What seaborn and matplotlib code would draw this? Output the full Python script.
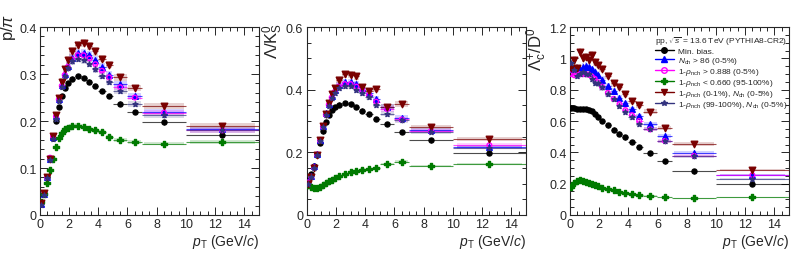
import numpy as np
import pandas as pd
import seaborn as sns
import matplotlib.pyplot as plt
from matplotlib.ticker import MultipleLocator
from matplotlib.lines import Line2D

# pT bins (GeV/c)
pt_edges = [0, 0.2, 0.4, 0.6, 0.8, 1.0, 1.2, 1.4, 1.6, 1.8, 2.0,
            2.4, 2.8, 3.2, 3.6, 4.0, 4.5, 5.0, 6.0, 7.0, 10.0, 15.0]

series_names = ["minbias", "nch", "rho_hi", "rho_lo", "rho01", "rho99"]
series_labels = [
    "Min. bias.",
    r"$N_{\rm ch}$ > 86 (0-5%)",
    r"1-$\rho_{\rm nch}$ > 0.888 (0-5%)",
    r"1-$\rho_{\rm nch}$ < 0.660 (95-100%)",
    r"1-$\rho_{\rm nch}$ (0-1%), $N_{\rm ch}$ (0-5%)",
    r"1-$\rho_{\rm nch}$ (99-100%), $N_{\rm ch}$ (0-5%)",
]
series_colors = ["black", "#0000ff", "#ff00ff", "#007a00", "#7a0000", "#33337f"]

# p/pi
ppi_minbias = [0.025, 0.047, 0.080, 0.120, 0.163, 0.200, 0.230, 0.253, 0.270, 0.281,
               0.290, 0.295, 0.292, 0.284, 0.275, 0.264, 0.253, 0.237, 0.219, 0.197, 0.171]
ppi_nch = [0.024, 0.045, 0.080, 0.120, 0.165, 0.210, 0.247, 0.277, 0.300, 0.318,
           0.335, 0.345, 0.345, 0.340, 0.330, 0.315, 0.298, 0.278, 0.253, 0.220, 0.183]
ppi_rho_hi = [0.024, 0.046, 0.080, 0.122, 0.167, 0.210, 0.246, 0.275, 0.298, 0.315,
              0.331, 0.340, 0.340, 0.333, 0.321, 0.307, 0.293, 0.272, 0.250, 0.218, 0.180]
ppi_rho_lo = [0.028, 0.045, 0.069, 0.095, 0.120, 0.145, 0.163, 0.175, 0.183, 0.186,
              0.189, 0.190, 0.188, 0.182, 0.180, 0.177, 0.166, 0.160, 0.156, 0.152, 0.156]
ppi_rho01 = [0.025, 0.046, 0.080, 0.120, 0.168, 0.212, 0.250, 0.284, 0.310, 0.330,
             0.348, 0.362, 0.366, 0.360, 0.348, 0.333, 0.320, 0.293, 0.270, 0.232, 0.190]
ppi_rho99 = [0.022, 0.043, 0.078, 0.118, 0.162, 0.205, 0.243, 0.272, 0.295, 0.312,
             0.327, 0.333, 0.330, 0.322, 0.310, 0.296, 0.284, 0.264, 0.236, 0.212, 0.180]

# Lambda/K0S
lk_minbias = [0.113, 0.130, 0.155, 0.190, 0.230, 0.267, 0.297, 0.320, 0.335, 0.344,
              0.352, 0.357, 0.353, 0.344, 0.333, 0.321, 0.306, 0.290, 0.265, 0.238, 0.198]
lk_nch = [0.105, 0.125, 0.155, 0.195, 0.240, 0.285, 0.325, 0.355, 0.380, 0.398,
          0.415, 0.425, 0.424, 0.418, 0.405, 0.390, 0.370, 0.345, 0.310, 0.272, 0.218]
lk_rho_hi = [0.104, 0.122, 0.152, 0.193, 0.238, 0.282, 0.320, 0.352, 0.375, 0.393,
             0.410, 0.418, 0.418, 0.410, 0.398, 0.383, 0.362, 0.338, 0.305, 0.268, 0.223]
lk_rho_lo = [0.097, 0.090, 0.085, 0.085, 0.090, 0.097, 0.103, 0.108, 0.113, 0.118,
             0.123, 0.130, 0.136, 0.141, 0.145, 0.146, 0.150, 0.163, 0.170, 0.157, 0.163]
lk_rho01 = [0.100, 0.120, 0.150, 0.190, 0.240, 0.285, 0.323, 0.357, 0.386, 0.405,
            0.432, 0.450, 0.448, 0.443, 0.408, 0.397, 0.403, 0.345, 0.355, 0.280, 0.243]
lk_rho99 = [0.100, 0.120, 0.150, 0.190, 0.235, 0.280, 0.318, 0.348, 0.372, 0.390,
            0.405, 0.412, 0.413, 0.400, 0.390, 0.378, 0.352, 0.323, 0.302, 0.266, 0.215]

# Lambda_c+/D0
lcd_minbias = [0.685, 0.680, 0.678, 0.677, 0.676, 0.675, 0.672, 0.665, 0.648, 0.628,
               0.600, 0.572, 0.545, 0.520, 0.495, 0.465, 0.435, 0.393, 0.343, 0.278, 0.198]
lcd_nch = [0.930, 0.935, 0.940, 0.935, 0.945, 0.950, 0.945, 0.930, 0.915, 0.895,
           0.865, 0.825, 0.790, 0.748, 0.713, 0.675, 0.632, 0.582, 0.506, 0.398, 0.257]
lcd_rho_hi = [0.900, 0.893, 0.895, 0.900, 0.900, 0.900, 0.895, 0.885, 0.870, 0.848,
              0.820, 0.780, 0.742, 0.708, 0.670, 0.638, 0.600, 0.547, 0.473, 0.378, 0.255]
lcd_rho_lo = [0.180, 0.205, 0.215, 0.222, 0.218, 0.210, 0.207, 0.198, 0.190, 0.183,
              0.175, 0.168, 0.160, 0.148, 0.140, 0.137, 0.130, 0.123, 0.115, 0.106, 0.112]
lcd_rho01 = [0.940, 0.990, 0.940, 1.040, 1.000, 1.010, 0.990, 1.020, 0.975, 0.960,
             0.935, 0.890, 0.840, 0.820, 0.770, 0.730, 0.700, 0.660, 0.555, 0.455, 0.285]
lcd_rho99 = [0.970, 0.925, 0.890, 0.900, 0.910, 0.900, 0.900, 0.870, 0.845, 0.840,
             0.815, 0.775, 0.740, 0.695, 0.660, 0.625, 0.580, 0.550, 0.470, 0.375, 0.232]

panels = [
    ("p/$\\pi$", 0.4, 0.1, 0.02,
     [ppi_minbias, ppi_nch, ppi_rho_hi, ppi_rho_lo, ppi_rho01, ppi_rho99]),
    ("$\\Lambda$/K$^{0}_{\\rm S}$", 0.6, 0.2, 0.05,
     [lk_minbias, lk_nch, lk_rho_hi, lk_rho_lo, lk_rho01, lk_rho99]),
    ("$\\Lambda_{\\rm c}^{+}$/D$^{0}$", 1.2, 0.2, 0.05,
     [lcd_minbias, lcd_nch, lcd_rho_hi, lcd_rho_lo, lcd_rho01, lcd_rho99]),
]

markers = {"minbias": "o", "nch": "^", "rho_hi": "o", "rho_lo": "P",
           "rho01": "v", "rho99": "*"}
msizes = {"minbias": 13, "nch": 16, "rho_hi": 11, "rho_lo": 16,
          "rho01": 22, "rho99": 14}

sns.set_style("ticks")
plt.rcParams["font.family"] = ["Liberation Sans", "DejaVu Sans"]
plt.rcParams["mathtext.fontset"] = "custom"
plt.rcParams["mathtext.rm"] = "Liberation Sans"
plt.rcParams["mathtext.it"] = "Liberation Sans:italic"

fig = plt.figure(figsize=(7.97, 2.55), dpi=100)
lefts = [0.050, 0.385, 0.715]
# right edge / top edge of the rotated y titles, in axes fraction
label_xy = [(-0.10, 1.075), (-0.10, 1.027), (-0.095, 1.0)]
edges = np.array(pt_edges)
centers = 0.5 * (edges[:-1] + edges[1:])
halfw = 0.5 * (edges[1:] - edges[:-1])

for i, (ylab, ymax, ymaj, ymin, values) in enumerate(panels):
    ax = fig.add_axes([lefts[i], 0.153, 0.2748, 0.737])
    rows = []
    for name, vals in zip(series_names, values):
        for c, v in zip(centers, vals):
            rows.append({"pt": c, "ratio": v, "series": name})
    df = pd.DataFrame(rows)
    for name, col in zip(series_names, series_colors):
        d = df[df["series"] == name]
        # systematic boxes (light), bin-width bars and small stat. errors
        if name != "minbias":
            h = 0.025 * d["ratio"].to_numpy()
            ax.bar(d["pt"], 2 * h, bottom=d["ratio"] - h, width=2 * halfw * 0.9,
                   color=col, alpha=0.18, linewidth=0, zorder=1)
        ax.errorbar(d["pt"], d["ratio"], xerr=halfw, yerr=0.012 * ymax,
                    fmt="none", ecolor=col, elinewidth=0.8, alpha=0.7, zorder=2)
        face = "none" if name == "rho_hi" else col
        ax.scatter(d["pt"], d["ratio"], marker=markers[name], s=msizes[name],
                   facecolors=face, edgecolors=col, linewidths=1.0, zorder=3)
    ax.set_xlim(0, 15)
    ax.set_ylim(0, ymax)
    ax.xaxis.set_major_locator(MultipleLocator(2))
    ax.xaxis.set_minor_locator(MultipleLocator(0.5))
    ax.yaxis.set_major_locator(MultipleLocator(ymaj))
    ax.yaxis.set_minor_locator(MultipleLocator(ymin))
    ax.tick_params(which="both", direction="in", top=True, right=True,
                   labelsize=9, width=0.7, pad=2.5)
    ax.tick_params(which="major", length=6)
    ax.tick_params(which="minor", length=3)
    ax.yaxis.set_major_formatter(plt.FuncFormatter(
        lambda v, p: "0" if abs(v) < 1e-9 else f"{v:g}"))
    for s in ax.spines.values():
        s.set_linewidth(0.8)
    ax.text(*label_xy[i], ylab, rotation=90, ha="right", va="top",
            fontsize=12, transform=ax.transAxes)
    ax.set_xlabel(r"$p_{\rm T}$ (GeV/$c$)", loc="right", fontsize=10, labelpad=1)

    if i == 2:
        handles = []
        for name, col in zip(series_names, series_colors):
            face = "none" if name == "rho_hi" else col
            handles.append(Line2D([0], [0], color=col, marker=markers[name],
                                  markersize=4, markerfacecolor=face,
                                  markeredgecolor=col, lw=1))
        leg = ax.legend(handles, series_labels,
                        title=r"pp, $\sqrt{s}$ = 13.6 TeV (PYTHIA8-CR2)",
                        loc="upper right", bbox_to_anchor=(1.02, 0.99),
                        fontsize=6, title_fontsize=6, frameon=False,
                        handlelength=2.2, handletextpad=0.5, labelspacing=0.0,
                        borderpad=0.2)
        leg._legend_box.align = "left"

fig.savefig("out.png", dpi=100)
